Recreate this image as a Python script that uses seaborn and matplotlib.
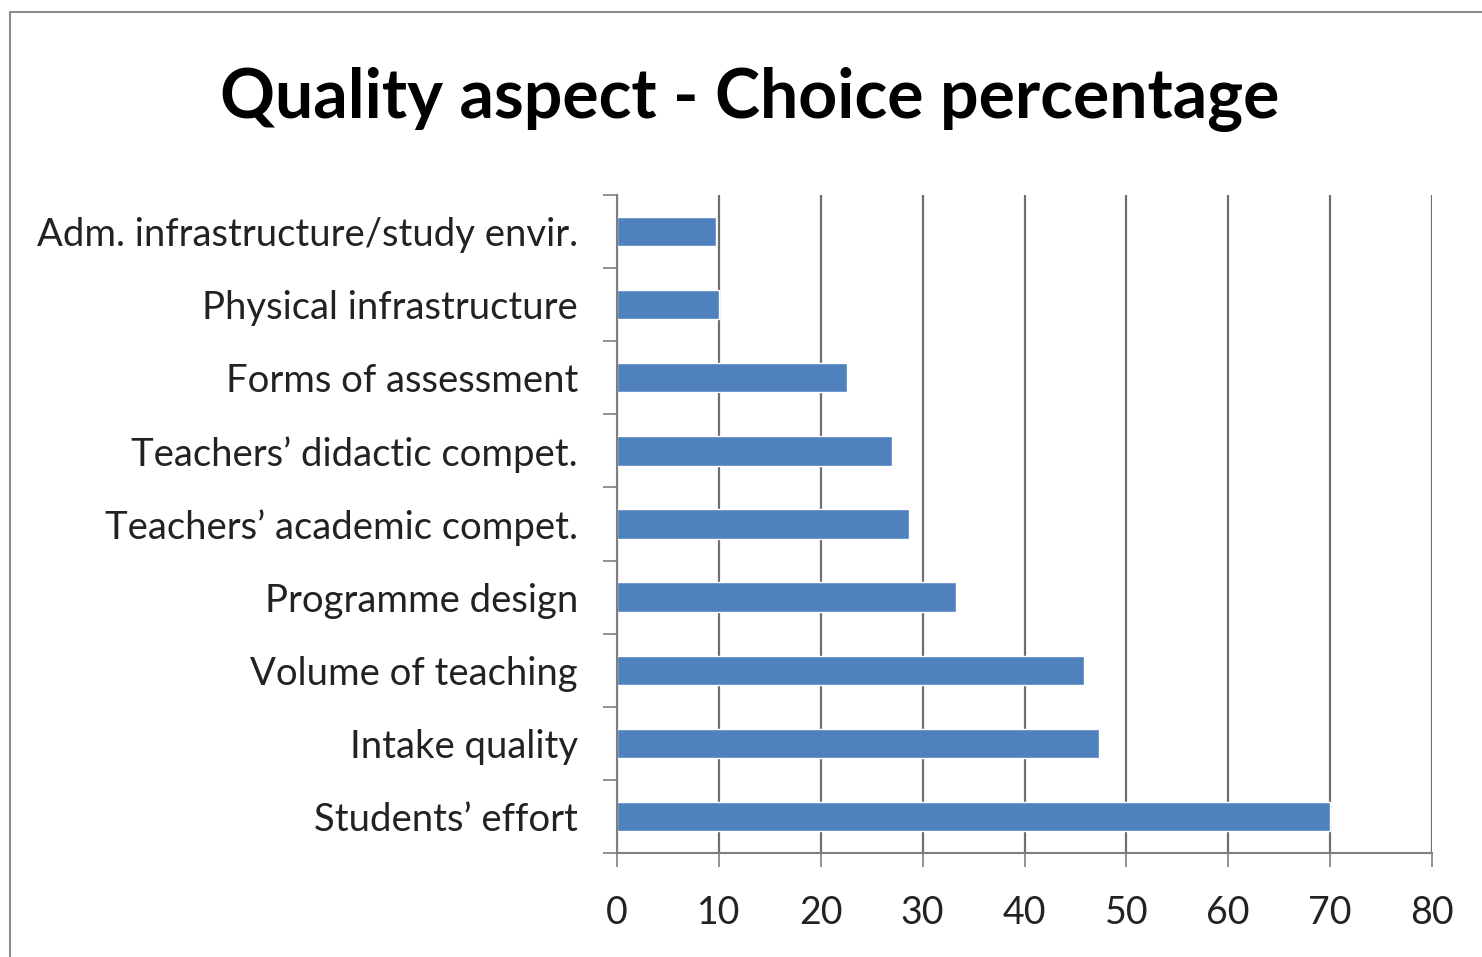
import matplotlib
matplotlib.use("Agg")
import matplotlib.pyplot as plt
import seaborn as sns
import pandas as pd
from matplotlib.patches import Rectangle
from matplotlib.ticker import FixedLocator

categories = ["Adm. infrastructure/study envir.", "Physical infrastructure",
              "Forms of assessment", "Teachers\u2019 didactic compet.",
              "Teachers\u2019 academic compet.", "Programme design",
              "Volume of teaching", "Intake quality", "Students\u2019 effort"]
values = [9.7, 10.0, 22.6, 27.0, 28.7, 33.3, 45.8, 47.3, 70.0]
xticks = [0, 10, 20, 30, 40, 50, 60, 70, 80]

df = pd.DataFrame({"aspect": categories, "pct": values})

sns.set_theme(style="white")
plt.rcParams['font.family'] = ['Lato', 'DejaVu Sans']

W, H = 1482, 957
fig = plt.figure(figsize=(W / 100, H / 100), dpi=100)
ax = fig.add_axes([617 / W, 1 - 853 / H, (1432 - 617) / W, (853 - 195) / H])

sns.barplot(data=df, x="pct", y="aspect", order=categories, color="#4F81BD",
            saturation=1, width=0.4, ax=ax, orient="h")

ax.set_xlim(0, 80)
ax.set_ylim(len(categories) - 0.5, -0.5)
ax.set_xticks(xticks)
ax.set_xticklabels([str(t) for t in xticks], fontsize=27, color="#222222")
ax.xaxis.grid(True, color="#6f6f6f", linewidth=1.6)
ax.set_axisbelow(True)
ax.set_xlabel("")
ax.set_ylabel("")
ax.tick_params(axis="x", length=10, width=1.2, color="#7f7f7f", pad=20, direction="out", bottom=True)
ax.tick_params(axis="y", which="major", length=0, pad=28, labelsize=27.5, labelcolor="#222222")
ax.yaxis.set_minor_locator(FixedLocator([i - 0.5 for i in range(len(categories) + 1)]))
ax.tick_params(axis="y", which="minor", length=10, width=1.2, color="#7f7f7f", left=True, direction="out")
for s in ["top", "right"]:
    ax.spines[s].set_visible(False)
for s in ["left", "bottom"]:
    ax.spines[s].set_color("#7f7f7f")
    ax.spines[s].set_linewidth(1.5)

fig.text(750 / W, 1 - 100 / H, "Quality aspect - Choice percentage",
         ha="center", va="center", fontsize=49, fontweight="bold", color="black")

fig.patches.append(Rectangle((10 / W, -0.1), 1.2, 1 - 12 / H + 0.1, transform=fig.transFigure,
                             fill=False, edgecolor="#8c8c8c", linewidth=1.5))

fig.savefig("out.png", dpi=100)
